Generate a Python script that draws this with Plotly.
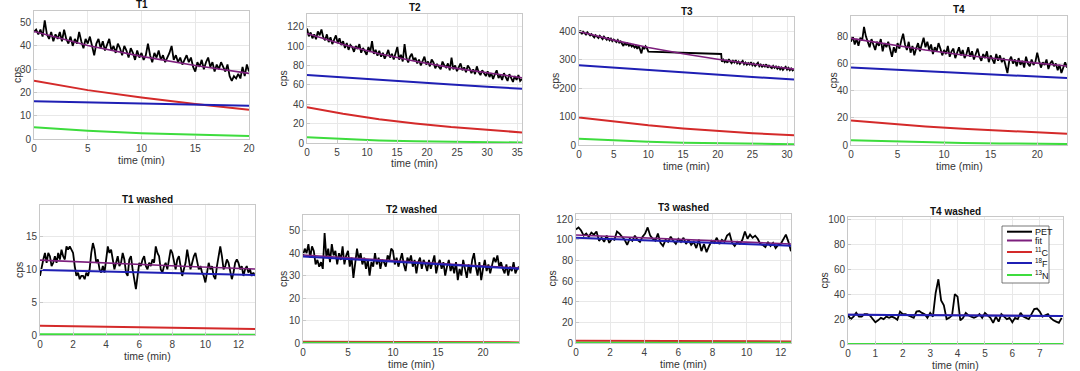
import numpy as np
import plotly.graph_objects as go

# ---------------- data ----------------
# T1
t1_pet_t = np.linspace(0, 20, 101)
t1_pet = [46, 47, 45, 47, 44, 51, 45, 43, 46, 42,
          45, 43, 46, 42, 47, 43, 41, 44, 40, 43,
          41, 46, 42, 39, 43, 41, 44, 40, 36, 41,
          43, 39, 42, 38, 41, 43, 38, 40, 37, 41,
          39, 36, 40, 38, 35, 39, 37, 34, 38, 35,
          37, 34, 36, 41, 36, 33, 37, 35, 38, 34,
          36, 33, 35, 37, 40, 34, 36, 33, 35, 32,
          34, 36, 33, 35, 31, 29, 33, 31, 34, 30,
          33, 35, 31, 33, 29, 32, 30, 33, 31, 29,
          32, 27, 25, 27, 26, 28, 26, 31, 27, 32, 29]
t1_mod_t = [0, 5, 10, 15, 20]
t1_fit = [46.2, 40.2, 35.5, 31.6, 28.2]
t1_c11 = [25.0, 21.0, 17.8, 15.0, 12.6]
t1_f18 = [16.2, 15.7, 15.2, 14.8, 14.3]
t1_n13 = [5.0, 3.54, 2.5, 1.77, 1.25]

# T2
t2_pet_t = np.linspace(0, 35.8, 120)
t2_pet = [118, 110, 114, 108, 112, 107, 115, 111, 117, 109,
          106, 112, 104, 109, 102, 107, 111, 103, 108, 101,
          105, 98, 103, 96, 101, 99, 94, 100, 97, 102,
          93, 98, 95, 91, 99, 94, 105, 92, 96, 90,
          95, 89, 93, 87, 91, 96, 88, 92, 86, 94,
          99, 86, 91, 84, 102, 88, 83, 89, 92, 85,
          88, 82, 86, 80, 85, 89, 81, 84, 79, 86,
          83, 77, 81, 79, 76, 84, 80, 78, 82, 75,
          88, 76, 80, 74, 79, 82, 75, 78, 73, 80,
          77, 72, 76, 71, 79, 73, 70, 75, 72, 69,
          74, 68, 72, 66, 71, 75, 67, 70, 65, 72,
          68, 64, 71, 66, 63, 69, 65, 70, 64, 66]
t2_mod_t = [0, 6, 12, 18, 24, 30, 35.8]
t2_fit = [113, 101.6, 92.1, 84.3, 77.7, 72.1, 67.3]
t2_c11 = [37, 30.2, 24.6, 20.1, 16.4, 13.4, 10.9]
t2_f18 = [70, 67.4, 64.9, 62.5, 60.2, 58.0, 55.9]
t2_n13 = [6, 3.95, 2.6, 1.7, 1.1, 0.75, 0.5]

# T3 (acquisition gap between ~10 and ~20.5 min)
t3_pet_t = np.concatenate([np.linspace(0, 10, 51), [20.5], np.linspace(20.6, 31, 53)])
t3_pet = [395, 402, 390, 398, 393, 388, 396, 391, 385, 390,
          383, 378, 386, 380, 376, 384, 379, 372, 381, 375,
          370, 378, 368, 374, 365, 371, 367, 362, 369, 360,
          364, 355, 348, 360, 352, 357, 349, 354, 346, 351,
          343, 348, 338, 350, 335, 322, 345, 337, 347, 340,
          328,
          320,
          293, 300, 291, 297, 289, 302, 294, 288, 296, 290,
          298, 287, 293, 285, 291, 296, 284, 290, 282, 288,
          283, 291, 280, 286, 278, 284, 289, 277, 283, 275,
          281, 276, 284, 272, 279, 274, 270, 278, 271, 276,
          268, 274, 266, 272, 264, 270, 275, 265, 271, 263,
          269, 262, 266]
t3_mod_t = [0, 5, 10, 15, 20, 25, 31]
t3_fit = [399, 368.7, 343.0, 320.8, 301.7, 284.5, 266.7]
t3_c11 = [97, 81.9, 69.1, 58.3, 49.2, 41.5, 33.9]
t3_f18 = [280, 271.3, 262.9, 254.8, 247.0, 239.1, 230.2]
t3_n13 = [22, 15.5, 11.0, 7.7, 5.5, 3.9, 2.6]

# T4
t4_pet_t = np.linspace(0, 23.2, 117)
t4_pet = [76, 80, 74, 78, 73, 79, 77, 87, 80, 75,
          72, 78, 74, 70, 76, 73, 78, 69, 75, 72,
          76, 70, 65, 72, 68, 75, 71, 77, 82, 74,
          70, 76, 68, 73, 66, 71, 75, 69, 74, 79,
          72, 76, 70, 74, 67, 72, 69, 75, 71, 66,
          70, 67, 73, 65, 69, 71, 64, 68, 72, 66,
          70, 64, 67, 72, 65, 69, 63, 67, 71, 65,
          62, 67, 64, 69, 61, 66, 63, 60, 67, 62,
          66, 61, 64, 59, 53, 62, 65, 60, 63, 58,
          64, 59, 62, 57, 65, 60, 58, 63, 59, 61,
          68, 62, 57, 61, 59, 63, 56, 60, 62, 58,
          60, 55, 59, 53, 58, 61, 57]
t4_mod_t = [0, 4, 8, 12, 16, 20, 23.2]
t4_fit = [78.5, 73.95, 69.9, 66.3, 63.15, 60.27, 58.2]
t4_c11 = [18, 15.7, 13.7, 12.0, 10.5, 9.1, 8.2]
t4_f18 = [57, 55.6, 54.2, 52.8, 51.5, 50.3, 49.3]
t4_n13 = [3.5, 2.65, 2.0, 1.5, 1.15, 0.87, 0.7]

# T1 washed
t1w_pet_t = np.linspace(0, 13, 131)
t1w_pet = [9.0, 10.5, 11.5, 12.5, 11.0, 12.5, 12.0, 10.5, 11.0, 12.0,
           11.0, 12.5, 11.5, 13.0, 12.0, 11.5, 13.5, 13.0, 13.5, 13.0,
           12.5, 10.5, 9.0, 9.5, 8.5, 9.0, 9.0, 8.5, 9.5, 9.0,
           10.0, 12.5, 14.0, 13.0, 11.0, 11.5, 10.0, 9.5, 10.5, 9.5,
           11.5, 13.5, 12.5, 13.0, 11.5, 10.0, 11.0, 12.0, 10.5, 11.0,
           12.5, 11.5, 9.5, 9.0, 11.5, 12.0, 10.0, 8.5, 7.0, 9.0,
           11.0, 10.5, 11.5, 12.0, 10.5, 10.0, 11.0, 10.5, 11.5, 11.0,
           13.5, 12.5, 12.0, 10.0, 9.5, 10.5, 11.0, 10.0, 11.5, 13.0,
           12.5, 11.0, 10.0, 11.5, 12.0, 10.5, 9.0, 10.0, 11.0, 13.0,
           11.5, 10.0, 11.0, 12.0, 12.5, 11.0, 10.0, 10.5, 9.5, 9.0,
           8.0, 9.5, 11.0, 10.0, 10.5, 9.0, 8.5, 10.5, 12.0, 13.5,
           12.0, 10.0, 10.5, 11.5, 11.0, 9.5, 8.5, 9.5, 11.0, 11.5,
           11.0, 10.0, 10.5, 9.0, 10.0, 10.5, 9.5, 10.0, 9.0, 9.5,
           9.0]
t1w_mod_t = [0, 3, 6, 9, 13]
t1w_fit = [11.4, 11.05, 10.74, 10.44, 10.06]
t1w_c11 = [1.4, 1.26, 1.14, 1.03, 0.9]
t1w_f18 = [9.9, 9.71, 9.53, 9.36, 9.12]
t1w_n13 = [0.1, 0.08, 0.07, 0.05, 0.04]

# T2 washed
t2w_pet_t = np.linspace(0, 24, 121)
t2w_pet = [39, 42, 40, 44, 38, 43, 41, 35, 37, 34,
           36, 33, 49, 38, 42, 36, 44, 39, 41, 35,
           40, 37, 43, 35, 39, 41, 34, 38, 29, 36,
           42, 37, 40, 35, 38, 33, 37, 30, 36, 34,
           40, 35, 38, 33, 37, 36, 34, 39, 37, 42,
           41, 35, 38, 34, 37, 40, 35, 32, 38, 36,
           39, 34, 37, 31, 36, 38, 33, 37, 35, 32,
           37, 33, 36, 39, 31, 35, 37, 33, 36, 30,
           34, 37, 32, 35, 31, 36, 28, 33, 30, 37,
           33, 29, 35, 31, 37, 40, 34, 30, 36, 28,
           33, 37, 32, 35, 31, 34, 38, 36, 39, 34,
           36, 33, 31, 35, 30, 34, 32, 36, 31, 33,
           34]
t2w_mod_t = [0, 6, 12, 18, 24]
t2w_fit = [39.2, 37.66, 36.14, 34.76, 33.39]
t2w_c11 = [0.6, 0.49, 0.4, 0.33, 0.27]
t2w_f18 = [38.5, 37.1, 35.7, 34.4, 33.1]
t2w_n13 = [0.1, 0.07, 0.04, 0.03, 0.02]

# T3 washed
t3w_pet_t = np.linspace(0, 12.6, 85)
t3w_pet = [110, 112, 109, 104, 106, 103, 107, 105, 108, 99,
           102, 98, 104, 97, 101, 100, 108, 106, 103, 100,
           95, 101, 99, 104, 100, 98, 103, 106, 112, 104,
           101, 99, 106, 97, 94, 100, 98, 103, 99, 96,
           101, 98, 102, 96, 100, 95, 98, 92, 100, 89,
           96, 88, 94, 99, 97, 102, 96, 100, 98, 104,
           106, 97, 94, 98, 96, 100, 108, 101, 105, 102,
           104, 101, 96, 95, 93, 98, 94, 97, 92, 95,
           96, 101, 105, 98, 89]
t3w_mod_t = [0, 3, 6, 9, 12.6]
t3w_fit = [104.6, 102.42, 100.28, 98.26, 95.93]
t3w_c11 = [2.3, 2.08, 1.88, 1.70, 1.50]
t3w_f18 = [102, 100.1, 98.2, 96.4, 94.3]
t3w_n13 = [0.3, 0.24, 0.2, 0.16, 0.13]

# T4 washed
t4w_pet_t = np.linspace(0, 7.8, 79)
t4w_pet = [23, 20, 22, 25, 22, 22, 24, 24, 23, 20,
           17.5, 19, 21, 20, 22, 21, 22, 21, 19.5, 26,
           24, 24, 23, 22, 21, 26, 26.5, 25, 24, 21,
           25, 22, 41, 52, 35, 31, 20, 21, 23, 40,
           38, 19, 21, 25, 23, 22, 21, 22, 24, 21,
           25, 23, 21, 17, 22, 18, 24, 22, 20, 21,
           17.5, 21, 20, 25, 22, 21, 20, 24, 28, 28.5,
           26, 22, 23, 24, 21, 19, 18, 17, 21]
t4w_mod_t = [0, 4, 7.85]
t4w_fit = [23.65, 23.03, 22.51]
t4w_c11 = [0.1, 0.09, 0.08]
t4w_f18 = [23.5, 22.9, 22.4]
t4w_n13 = [0.05, 0.04, 0.03]

titles = ["T1", "T2", "T3", "T4", "T1 washed", "T2 washed", "T3 washed", "T4 washed"]
legend_names = ["PET", "fit", "<sup>11</sup>C", "<sup>18</sup>F", "<sup>13</sup>N"]
x_label = "time (min)"
y_label = "cps"

# ---------------- layout / style ----------------
W, H = 1080, 371
COL = {"PET": "#000000", "fit": "#7d1f7d", "C": "#d42a2a", "F": "#1f1fb4", "N": "#3ddc3d"}
FONT = "Liberation Sans, Arial, Helvetica, sans-serif"

panels = [
    dict(pt=t1_pet_t, p=t1_pet, mt=t1_mod_t, fit=t1_fit, c=t1_c11, f=t1_f18, n=t1_n13,
         xr=20, yr=55, xd=5, yd=10, box=(34, 249, 11, 139), ylab_off=17),
    dict(pt=t2_pet_t, p=t2_pet, mt=t2_mod_t, fit=t2_fit, c=t2_c11, f=t2_f18, n=t2_n13,
         xr=35.8, yr=133, xd=5, yd=20, box=(307, 522, 14, 143), ylab_off=24),
    dict(pt=t3_pet_t, p=t3_pet, mt=t3_mod_t, fit=t3_fit, c=t3_c11, f=t3_f18, n=t3_n13,
         xr=31, yr=450, xd=5, yd=100, box=(579, 794, 17, 145), ylab_off=24),
    dict(pt=t4_pet_t, p=t4_pet, mt=t4_mod_t, fit=t4_fit, c=t4_c11, f=t4_f18, n=t4_n13,
         xr=23.2, yr=95, xd=5, yd=20, box=(851, 1067, 16, 145), ylab_off=19),
    dict(pt=t1w_pet_t, p=t1w_pet, mt=t1w_mod_t, fit=t1w_fit, c=t1w_c11, f=t1w_f18, n=t1w_n13,
         xr=13, yr=19.8, xd=2, yd=5, box=(40, 255, 205, 335), ylab_off=21),
    dict(pt=t2w_pet_t, p=t2w_pet, mt=t2w_mod_t, fit=t2w_fit, c=t2w_c11, f=t2w_f18, n=t2w_n13,
         xr=24, yr=57, xd=5, yd=10, box=(303, 519, 215, 343), ylab_off=20),
    dict(pt=t3w_pet_t, p=t3w_pet, mt=t3w_mod_t, fit=t3w_fit, c=t3w_c11, f=t3w_f18, n=t3w_n13,
         xr=12.6, yr=125, xd=2, yd=20, box=(576, 791, 214, 343), ylab_off=25),
    dict(pt=t4w_pet_t, p=t4w_pet, mt=t4w_mod_t, fit=t4w_fit, c=t4w_c11, f=t4w_f18, n=t4w_n13,
         xr=7.85, yr=102, xd=1, yd=20, box=(848, 1063, 217, 344), ylab_off=25),
]

fig = go.Figure()
layout = dict(width=W, height=H, margin=dict(l=0, r=0, t=0, b=0, autoexpand=False),
              paper_bgcolor="white", plot_bgcolor="white", showlegend=False,
              hovermode=False,
              font=dict(family=FONT, size=10, color="#333333"))
annotations = []
shapes = []

for i, pnl in enumerate(panels):
    k = "" if i == 0 else str(i + 1)
    xa, ya = "x" + k, "y" + k
    x0, x1, y0, y1 = pnl["box"]
    axcommon = dict(showgrid=True, gridcolor="#e8e8e8", gridwidth=1,
                    showline=True, linecolor="#c8c8c8", linewidth=1, mirror=True,
                    ticks="inside", ticklen=3, tickcolor="#c8c8c8", zeroline=False,
                    tickfont=dict(size=10, color="#404040"))
    layout["xaxis" + k] = dict(axcommon, domain=[x0 / W, x1 / W], anchor=ya,
                               range=[0, pnl["xr"]], dtick=pnl["xd"], tick0=0)
    layout["yaxis" + k] = dict(axcommon, domain=[1 - y1 / H, 1 - y0 / H], anchor=xa,
                               range=[0, pnl["yr"]], dtick=pnl["yd"], tick0=0)
    series = [(pnl["pt"], pnl["p"], COL["PET"], 1.8),
              (pnl["mt"], pnl["fit"], COL["fit"], 1.6),
              (pnl["mt"], pnl["c"], COL["C"], 2.0),
              (pnl["mt"], pnl["f"], COL["F"], 2.0),
              (pnl["mt"], pnl["n"], COL["N"], 2.0)]
    for (xs, ys, colr, lw), nm in zip(series, legend_names):
        fig.add_trace(go.Scatter(x=list(xs), y=ys, mode="lines", name=nm,
                                 line=dict(color=colr, width=lw),
                                 xaxis=xa, yaxis=ya, hoverinfo="skip"))
    # panel title
    annotations.append(dict(text="<b>%s</b>" % titles[i], xref=xa + " domain", yref=ya + " domain",
                            x=0.5, y=1, xanchor="center", yanchor="middle", yshift=6,
                            showarrow=False, font=dict(size=10, color="#111111")))
    # axis titles
    annotations.append(dict(text=x_label, xref=xa + " domain", yref=ya + " domain",
                            x=0.5, y=0, xanchor="center", yanchor="middle", yshift=-20.5,
                            showarrow=False, font=dict(size=10.5, color="#333333")))
    annotations.append(dict(text=y_label, xref=xa + " domain", yref=ya + " domain",
                            x=0, y=0.5, xanchor="center", yanchor="middle",
                            xshift=-pnl["ylab_off"], textangle=-90,
                            showarrow=False, font=dict(size=10.5, color="#333333")))

# legend drawn inside the T4 washed axes
lx0, lx1, ly0, ly1 = 1002, 1049, 226, 283
shapes.append(dict(type="rect", xref="paper", yref="paper",
                   x0=lx0 / W, x1=lx1 / W, y0=1 - ly1 / H, y1=1 - ly0 / H,
                   line=dict(color="#555555", width=0.8), fillcolor="white", layer="above"))
entry_y = [231.7, 240.5, 252, 263, 275]
entry_col = [COL["PET"], COL["fit"], COL["C"], COL["F"], COL["N"]]
for nm, ey, colr in zip(legend_names, entry_y, entry_col):
    shapes.append(dict(type="line", xref="paper", yref="paper",
                       x0=1007 / W, x1=1032 / W, y0=1 - ey / H, y1=1 - ey / H,
                       line=dict(color=colr, width=2), layer="above"))
    annotations.append(dict(text=nm, xref="paper", yref="paper", x=1033 / W, y=1 - ey / H,
                            xanchor="left", yanchor="middle", showarrow=False,
                            font=dict(size=9, color="#111111")))

layout["annotations"] = annotations
layout["shapes"] = shapes
fig.update_layout(**layout)
fig.write_html("out.html", config={"displayModeBar": False, "staticPlot": True},
               post_script="document.body.style.margin='0px';document.body.style.overflow='hidden';")
